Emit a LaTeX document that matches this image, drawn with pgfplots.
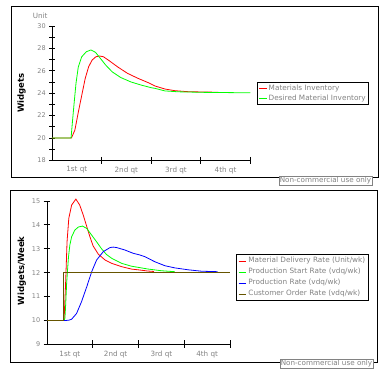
\documentclass[border=0pt]{standalone}
\usepackage{fontspec}
\setmainfont{DejaVu Sans}
\usepackage{pgfplots}
\pgfplotsset{compat=1.18}
\definecolor{olivebrown}{RGB}{102,85,0}
\definecolor{txtgray}{RGB}{130,130,130}
\definecolor{pgreen}{RGB}{0,255,0}

\pgfplotsset{
  panel/.style={
    scale only axis,
    axis lines=left,
    axis line style={-, black, line width=0.8pt},
    every tick/.style={black, line width=0.8pt},
    tick align=center,
    clip=false,
    xmin=0, xmax=52,
    xtick={6.5,19.5,32.5,45.5},
    xticklabels={1st qt,2nd qt,3rd qt,4th qt},
    x tick style={draw=none},
    xticklabel style={font=\fontsize{7.2}{8}\selectfont, text=txtgray},
    yticklabel style={font=\fontsize{6.5}{7}\selectfont, text=txtgray},
    /pgf/number format/assume math mode=true,
    ylabel style={anchor=center, font=\fontsize{8.5}{10}\selectfont\bfseries, text=black},
    legend cell align=left,
    legend style={draw=black, line width=0.8pt, fill=white, anchor=north west,
      inner xsep=1.5pt, inner ysep=1pt, row sep=0pt,
      nodes={font=\fontsize{7.3}{8}\selectfont, text=txtgray, inner sep=1.5pt, text height=5.5pt, text depth=1.5pt}},
    legend image code/.code={\draw[#1, line width=0.8pt] (0pt,0pt) -- (7.5pt,0pt);},
  }
}

\begin{document}
\begin{tikzpicture}
\path[use as bounding box] (0,0) rectangle (389pt,-377pt);
\draw[line width=1pt] (11pt,-7pt) rectangle (378.5pt,-178pt);
\draw[line width=1pt] (10pt,-191pt) rectangle (377.5pt,-363pt);

\begin{axis}[panel, at={(52pt,-160.3pt)}, anchor=south west,
  width=198.3pt, height=134.3pt,
  ymin=18, ymax=30, ytick={18,20,...,30}, minor ytick={19,21,...,29},
  major tick length=5.5pt, minor tick length=5.5pt,
  ylabel={Widgets}, ylabel style={at={(axis description cs:-0.153,0.5)}},
  legend style={at={(1.034,0.583)}}]
\addplot[red, line width=0.8pt] coordinates {
(0,20)(5.1,20)(6.0,20.7)(6.9,22.3)(7.8,23.8)(8.7,25.3)(9.6,26.35)(10.5,26.95)(11.5,27.25)(12.5,27.32)(13.5,27.25)(15.0,26.9)(17.2,26.35)(19.8,25.77)(22.5,25.33)(25.5,24.9)(27.0,24.64)(29.6,24.37)(32.2,24.22)(35.7,24.13)(40,24.1)(43.6,24.08)};
\addlegendentry{Materials Inventory}
\addplot[pgreen, line width=0.8pt] coordinates {
(0,20)(5.0,20)(5.4,21.6)(5.8,23.1)(6.3,24.9)(6.9,26.35)(7.8,27.25)(9.0,27.7)(10.2,27.86)(11.4,27.65)(12.7,27.1)(14.1,26.5)(15.8,25.9)(18.0,25.4)(20.7,25.0)(23.4,24.72)(26.1,24.48)(27,24.43)(29.6,24.2)(33.1,24.12)(40,24.07)(52,24.03)};
\addlegendentry{Desired Material Inventory}
\draw[line width=0.8pt] ([yshift=3.5pt]axis cs:13,18) -- ([yshift=-3.5pt]axis cs:13,18);
\draw[line width=0.8pt] ([yshift=3.5pt]axis cs:26,18) -- ([yshift=-3.5pt]axis cs:26,18);
\draw[line width=0.8pt] ([yshift=3.5pt]axis cs:39,18) -- ([yshift=-3.5pt]axis cs:39,18);
\draw[line width=0.8pt] ([yshift=3.5pt]axis cs:52,18) -- ([yshift=-3.5pt]axis cs:52,18);
\node[font=\fontsize{7.2}{8}\selectfont, text=txtgray] at (axis description cs:-0.06,1.074) {Unit};
\end{axis}

\begin{axis}[panel, at={(47pt,-344.3pt)}, anchor=south west,
  width=183pt, height=143.3pt,
  ymin=9, ymax=15, ytick={9,10,...,15},
  major tick length=6.5pt,
  ylabel={Widgets/Week}, ylabel style={at={(axis description cs:-0.138,0.513)}},
  legend style={at={(1.034,0.630)}, nodes={inner sep=2pt}}]
\addplot[red, line width=0.8pt] coordinates {
(0,10)(4.85,10)(5.3,11.6)(5.7,13.3)(6.2,14.28)(7.0,14.83)(8.2,15.08)(9.3,14.83)(10.3,14.41)(11.3,13.93)(12.2,13.5)(13.1,13.12)(14.6,12.77)(16.5,12.53)(18.4,12.39)(21.2,12.25)(24.0,12.15)(26.4,12.11)(28.5,12.07)(30.4,12.05)};
\addlegendentry{Material Delivery Rate (Unit/wk)}
\addplot[pgreen, line width=0.8pt] coordinates {
(0,10)(4.9,10)(5.1,10.1)(5.3,10.65)(5.6,11.6)(6.1,12.65)(6.5,13.16)(7.0,13.5)(7.9,13.78)(8.9,13.91)(10.1,13.95)(11.3,13.85)(12.7,13.57)(14.1,13.29)(15.5,13.0)(16.9,12.76)(18.4,12.6)(21.2,12.39)(24.0,12.27)(26.4,12.21)(28.75,12.15)(32.5,12.08)(36.3,12.04)};
\addlegendentry{Production Start Rate (vdq/wk)}
\addplot[blue, line width=0.8pt] coordinates {
(0,10)(4.9,10)(5.5,10)(6.2,10.01)(7.0,10.05)(8.4,10.29)(9.8,10.78)(11.3,11.41)(12.7,12.04)(14.1,12.53)(16.0,12.88)(17.9,13.05)(18.8,13.07)(19.8,13.05)(22.1,12.95)(24.5,12.81)(26.4,12.74)(27.8,12.67)(30.6,12.46)(33.5,12.29)(36.3,12.2)(40.1,12.12)(43.9,12.06)(48.5,12.04)};
\addlegendentry{Production Rate (vdq/wk)}
\addplot[olivebrown, line width=0.8pt] coordinates {
(0,10)(4.8,10)(4.8,12)(52,12)};
\addlegendentry{Customer Order Rate (vdq/wk)}
\draw[line width=0.8pt] ([yshift=4pt]axis cs:13,9) -- ([yshift=-4pt]axis cs:13,9);
\draw[line width=0.8pt] ([yshift=4pt]axis cs:26,9) -- ([yshift=-4pt]axis cs:26,9);
\draw[line width=0.8pt] ([yshift=4pt]axis cs:39,9) -- ([yshift=-4pt]axis cs:39,9);
\draw[line width=0.8pt] ([yshift=4pt]axis cs:52,9) -- ([yshift=-4pt]axis cs:52,9);
\end{axis}

\node[draw=txtgray, fill=white, text=txtgray, font=\fontsize{7.2}{8}\selectfont, inner sep=1pt, minimum height=9pt] at (325.5pt,-181pt) {Non-commercial use only};
\node[draw=txtgray, fill=white, text=txtgray, font=\fontsize{7.2}{8}\selectfont, inner sep=1pt, minimum height=9pt] at (326.5pt,-364pt) {Non-commercial use only};
\end{tikzpicture}
\end{document}
